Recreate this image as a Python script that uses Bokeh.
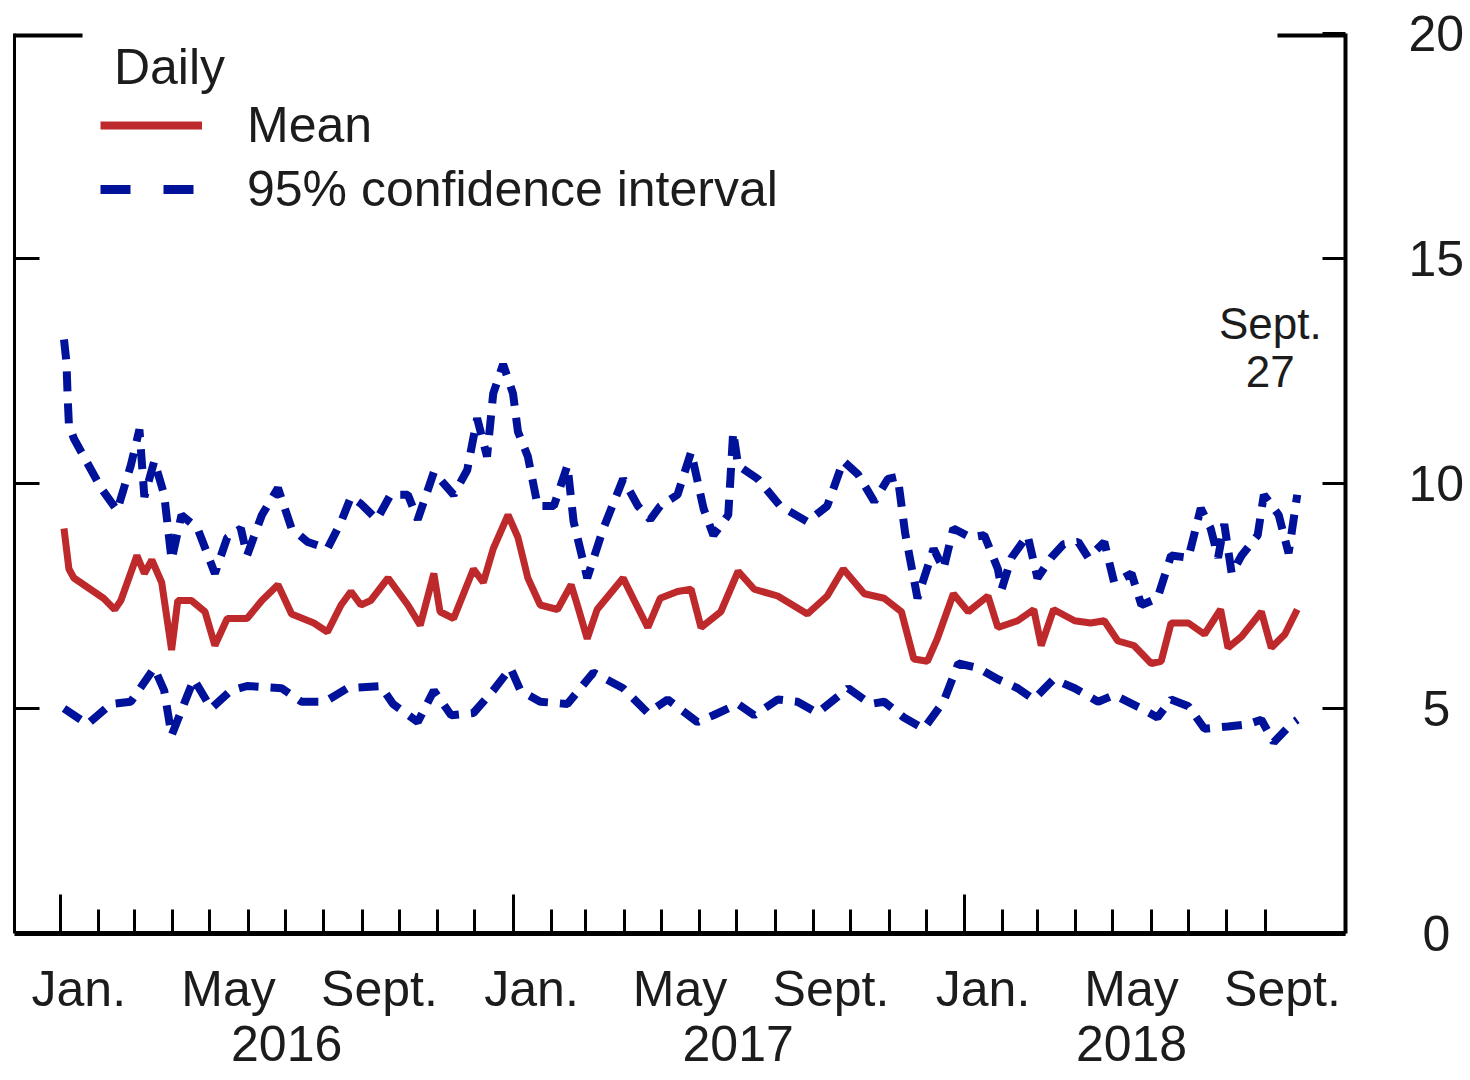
import pandas as pd
from bokeh.plotting import figure
from bokeh.models import Range1d, LinearAxis, FixedTicker, Legend, LegendItem, Label
from bokeh.embed import file_html
from bokeh.resources import INLINE

# ---------------- data ----------------
mean_dates = ["2016-01-04", "2016-01-08", "2016-01-12", "2016-01-20", "2016-01-28", "2016-02-05",
              "2016-02-14", "2016-02-19", "2016-03-03", "2016-03-09", "2016-03-15", "2016-03-23",
              "2016-03-31", "2016-04-05", "2016-04-16", "2016-04-27", "2016-05-05", "2016-05-15",
              "2016-05-31", "2016-06-12", "2016-06-25", "2016-07-06", "2016-07-24", "2016-08-04",
              "2016-08-15", "2016-08-23", "2016-08-31", "2016-09-08", "2016-09-22", "2016-10-08",
              "2016-10-18", "2016-10-29", "2016-11-03", "2016-11-14", "2016-11-30", "2016-12-08",
              "2016-12-16", "2016-12-28", "2017-01-05", "2017-01-13", "2017-01-23", "2017-02-06",
              "2017-02-17", "2017-02-22", "2017-03-02", "2017-03-10", "2017-03-31", "2017-04-09",
              "2017-04-20", "2017-04-30", "2017-05-14", "2017-05-25", "2017-06-02", "2017-06-18",
              "2017-07-02", "2017-07-15", "2017-08-03", "2017-08-27", "2017-09-12", "2017-09-25",
              "2017-10-12", "2017-10-28", "2017-11-11", "2017-11-21", "2017-12-02", "2017-12-10",
              "2017-12-23", "2018-01-04", "2018-01-20", "2018-01-28", "2018-02-13", "2018-02-26",
              "2018-03-04", "2018-03-14", "2018-03-31", "2018-04-13", "2018-04-24", "2018-05-05",
              "2018-05-18", "2018-06-01", "2018-06-09", "2018-06-17", "2018-07-01", "2018-07-14",
              "2018-07-27", "2018-08-02", "2018-08-13", "2018-08-29", "2018-09-06", "2018-09-17",
              "2018-09-27"]
mean_values = [9.0, 8.1, 7.9, 7.75, 7.6, 7.45,
               7.2, 7.4, 8.4, 8.0, 8.3, 7.8,
               6.3, 7.4, 7.4, 7.15, 6.4, 7.0,
               7.0, 7.4, 7.75, 7.1, 6.9, 6.7,
               7.3, 7.6, 7.3, 7.4, 7.9, 7.3,
               6.85, 8.0, 7.15, 7.0, 8.1, 7.8,
               8.55, 9.3, 8.8, 7.9, 7.3, 7.2,
               7.75, 7.3, 6.55, 7.2, 7.9, 7.4,
               6.8, 7.45, 7.6, 7.65, 6.8, 7.15,
               8.05, 7.65, 7.5, 7.1, 7.5, 8.1,
               7.55, 7.45, 7.15, 6.1, 6.05, 6.55,
               7.55, 7.15, 7.5, 6.8, 6.95, 7.2,
               6.4, 7.2, 6.95, 6.9, 6.95, 6.5,
               6.4, 6.0, 6.05, 6.9, 6.9, 6.65,
               7.2, 6.35, 6.6, 7.15, 6.35, 6.65,
               7.2]

upper_dates = ["2016-01-04", "2016-01-06", "2016-01-07", "2016-01-08", "2016-01-12", "2016-01-26",
               "2016-02-03", "2016-02-16", "2016-02-27", "2016-03-05", "2016-03-09", "2016-03-17",
               "2016-03-25", "2016-03-31", "2016-04-08", "2016-04-21", "2016-05-05", "2016-05-15",
               "2016-05-26", "2016-05-31", "2016-06-12", "2016-06-25", "2016-07-06", "2016-07-19",
               "2016-08-04", "2016-08-15", "2016-08-23", "2016-08-31", "2016-09-13", "2016-09-24",
               "2016-10-08", "2016-10-16", "2016-10-29", "2016-11-14", "2016-11-25", "2016-12-03",
               "2016-12-11", "2016-12-16", "2016-12-24", "2017-01-01", "2017-01-05", "2017-01-13",
               "2017-01-21", "2017-02-03", "2017-02-14", "2017-02-19", "2017-03-02", "2017-03-15",
               "2017-03-31", "2017-04-12", "2017-04-22", "2017-04-30", "2017-05-14", "2017-05-25",
               "2017-06-04", "2017-06-12", "2017-06-24", "2017-06-28", "2017-07-02", "2017-07-18",
               "2017-08-05", "2017-08-27", "2017-09-12", "2017-09-25", "2017-10-07", "2017-10-20",
               "2017-10-31", "2017-11-08", "2017-11-14", "2017-11-24", "2017-12-07", "2017-12-15",
               "2017-12-23", "2018-01-06", "2018-01-17", "2018-01-28", "2018-01-31", "2018-02-08",
               "2018-02-21", "2018-03-01", "2018-03-12", "2018-03-22", "2018-04-03", "2018-04-11",
               "2018-04-24", "2018-05-02", "2018-05-16", "2018-05-24", "2018-06-06", "2018-06-17",
               "2018-07-01", "2018-07-11", "2018-07-19", "2018-07-25", "2018-07-30", "2018-08-05",
               "2018-08-13", "2018-08-26", "2018-08-31", "2018-09-12", "2018-09-20", "2018-09-27"]
upper_values = [13.2, 12.7, 11.9, 11.3, 11.0, 10.3,
                9.9, 9.4, 10.4, 11.2, 9.7, 10.5,
                9.75, 8.3, 9.3, 9.0, 8.0, 8.8,
                9.0, 8.4, 9.3, 9.9, 9.0, 8.7,
                8.55, 9.15, 9.7, 9.55, 9.2, 9.75,
                9.75, 9.2, 10.25, 9.75, 10.3, 11.45,
                10.6, 12.0, 12.65, 12.0, 11.15, 10.6,
                9.5, 9.5, 10.4, 9.15, 7.9, 9.0,
                10.1, 9.5, 9.2, 9.5, 9.75, 10.7,
                9.45, 8.85, 9.3, 11.15, 10.4, 10.1,
                9.5, 9.15, 9.5, 10.5, 10.2, 9.6,
                10.1, 10.15, 8.9, 7.45, 8.55, 8.1,
                9.0, 8.8, 8.85, 8.1, 7.65, 8.35,
                8.85, 7.9, 8.35, 8.65, 8.7, 8.35,
                8.7, 7.8, 8.0, 7.3, 7.45, 8.4,
                8.35, 9.45, 9.0, 8.35, 9.1, 8.0,
                8.4, 8.85, 9.75, 9.3, 8.45, 9.75]

lower_dates = ["2016-01-04", "2016-01-23", "2016-02-11", "2016-02-27", "2016-03-17", "2016-03-25",
               "2016-03-31", "2016-04-10", "2016-04-18", "2016-05-02", "2016-05-18", "2016-05-31",
               "2016-06-28", "2016-07-14", "2016-08-02", "2016-08-20", "2016-09-16", "2016-09-26",
               "2016-10-16", "2016-10-29", "2016-11-12", "2016-11-30", "2016-12-16", "2016-12-30",
               "2017-01-07", "2017-01-23", "2017-02-14", "2017-03-07", "2017-03-31", "2017-04-20",
               "2017-05-06", "2017-05-30", "2017-06-12", "2017-07-02", "2017-07-15", "2017-08-03",
               "2017-08-19", "2017-09-04", "2017-09-29", "2017-10-17", "2017-10-28", "2017-11-13",
               "2017-11-29", "2017-12-15", "2017-12-27", "2018-01-12", "2018-01-28", "2018-02-13",
               "2018-02-26", "2018-03-14", "2018-03-31", "2018-04-19", "2018-05-02", "2018-05-24",
               "2018-06-06", "2018-06-17", "2018-07-01", "2018-07-14", "2018-08-02", "2018-08-18",
               "2018-08-29", "2018-09-08", "2018-09-22", "2018-09-27"]
lower_values = [5.0, 4.65, 5.1, 5.15, 5.9, 5.4,
                4.4, 5.1, 5.65, 5.0, 5.4, 5.5,
                5.45, 5.15, 5.15, 5.45, 5.5, 5.1,
                4.7, 5.4, 4.85, 4.9, 5.4, 5.9,
                5.4, 5.15, 5.1, 5.8, 5.45, 4.9,
                5.2, 4.7, 4.85, 5.1, 4.85, 5.2,
                5.15, 4.9, 5.45, 5.1, 5.15, 4.8,
                4.55, 5.15, 6.0, 5.9, 5.65, 5.45,
                5.2, 5.65, 5.45, 5.15, 5.3, 5.0,
                4.8, 5.2, 5.05, 4.55, 4.6, 4.65,
                4.75, 4.25, 4.65, 4.75]

x_start, x_end = "2015-11-25", "2018-11-05"
month_tick_dates = [f"{y}-{m:02d}-01" for y in (2016, 2017, 2018) for m in range(1, 13)
                    if not (y == 2018 and m > 9)]
year_tick_dates = ["2016-01-01", "2017-01-01", "2018-01-01"]
month_label_dates = ["2016-01-16", "2016-05-16", "2016-09-15",
                     "2017-01-16", "2017-05-16", "2017-09-15",
                     "2018-01-16", "2018-05-16", "2018-09-15"]
month_labels = ["Jan.", "May", "Sept.", "Jan.", "May", "Sept.", "Jan.", "May", "Sept."]
year_label_dates = ["2016-07-02", "2017-07-02", "2018-05-16"]
year_labels = ["2016", "2017", "2018"]
y_ticks = [0, 5, 10, 15, 20]
y_tick_labels = ["\u00a00", "\u00a05", "10", "15", "20"]

# ---------------- styling ----------------
RED = "#BE2A2C"
BLUE = "#00119A"
INK = "#1c1c1c"
FONT = "Liberation Sans"
NAN = float("nan")


def ms(d):
    return int(pd.Timestamp(d).value // 10**6)


def ms_list(ds):
    return [ms(d) for d in ds]


p = figure(width=1470, height=1080,
           x_range=Range1d(ms(x_start), ms(x_end)), y_range=Range1d(0, 20),
           output_backend="svg", toolbar_location=None,
           x_axis_location=None, y_axis_location=None,
           min_border_left=14, min_border_top=33, min_border_right=125, min_border_bottom=147)
p.outline_line_color = None
p.background_fill_color = "white"
p.border_fill_color = "white"
for g in p.grid:
    g.visible = False

# series
p.line(ms_list(mean_dates), mean_values, color=RED, line_width=7)
p.line(ms_list(upper_dates), upper_values, color=BLUE, line_width=8, line_dash="20 12")
p.line(ms_list(lower_dates), lower_values, color=BLUE, line_width=8, line_dash="20 12")

# partial top border
span = 55 * 86400000
p.segment(x0=[ms(x_start), ms(x_end) - span], y0=[20, 20],
          x1=[ms(x_start) + span, ms(x_end)], y1=[20, 20], color="black", line_width=8)

# axes
left = LinearAxis(ticker=FixedTicker(ticks=[5, 10, 15]), major_tick_in=25, major_tick_out=0,
                  major_label_text_color=None, major_label_text_font_size="1px",
                  major_label_standoff=0,
                  axis_line_width=3, major_tick_line_width=3, minor_tick_line_color=None)
p.add_layout(left, "left")

right = LinearAxis(ticker=FixedTicker(ticks=y_ticks),
                   major_label_overrides={t: s for t, s in zip(y_ticks, y_tick_labels)},
                   major_tick_in=23, major_tick_out=0, major_label_standoff=63,
                   major_label_text_font=FONT, major_label_text_font_size="50px",
                   major_label_text_color=INK,
                   axis_line_width=4, major_tick_line_width=3, minor_tick_line_color=None)
p.add_layout(right, "right")

bottom_ticks = LinearAxis(ticker=FixedTicker(ticks=ms_list(year_tick_dates),
                                             minor_ticks=ms_list(month_tick_dates)),
                          major_tick_in=39, major_tick_out=0, minor_tick_in=24, minor_tick_out=0,
                          major_label_text_color=None, major_label_text_font_size="1px",
                          major_label_standoff=0,
                          axis_line_width=5, major_tick_line_width=3, minor_tick_line_width=3)
p.add_layout(bottom_ticks, "below")

ml = ms_list(month_label_dates)
bottom_months = LinearAxis(ticker=FixedTicker(ticks=ml, minor_ticks=[]),
                           major_label_overrides={t: s for t, s in zip(ml, month_labels)},
                           axis_line_color=None, major_tick_line_color=None,
                           minor_tick_line_color=None, major_tick_in=0, major_tick_out=0,
                           major_label_standoff=27, major_label_text_font=FONT,
                           major_label_text_font_size="50px", major_label_text_color=INK)
p.add_layout(bottom_months, "below")

yl = ms_list(year_label_dates)
bottom_years = LinearAxis(ticker=FixedTicker(ticks=yl, minor_ticks=[]),
                          major_label_overrides={t: s for t, s in zip(yl, year_labels)},
                          axis_line_color=None, major_tick_line_color=None,
                          minor_tick_line_color=None, major_tick_in=0, major_tick_out=0,
                          major_label_standoff=6, major_label_text_font=FONT,
                          major_label_text_font_size="50px", major_label_text_color=INK)
p.add_layout(bottom_years, "below")

# end-date annotation
end_x = ms(mean_dates[-1])
for txt, yv in (("Sept.", 13.55), ("27", 12.48)):
    p.add_layout(Label(x=end_x, y=yv, x_offset=-27, text=txt, text_align="center",
                       text_baseline="alphabetic", text_font=FONT, text_font_size="44px",
                       text_color=INK))

# legend (sample glyphs only)
leg_mean = p.line([NAN], [NAN], color=RED, line_width=8)
leg_ci = p.line([NAN], [NAN], color=BLUE, line_width=9, line_dash="30 33")
legend = Legend(items=[LegendItem(label="Mean", renderers=[leg_mean]),
                       LegendItem(label="95% confidence interval", renderers=[leg_ci])],
                title="\u00a0Daily", location=(86, 715), padding=0, margin=0,
                border_line_color=None, background_fill_alpha=0,
                title_text_font=FONT, title_text_font_size="50px", title_text_font_style="normal",
                title_text_color=INK, title_standoff=-9,
                label_text_font=FONT, label_text_font_size="50px", label_text_color=INK,
                glyph_width=102, glyph_height=40, label_standoff=45, spacing=6)
p.add_layout(legend)

open("out.html", "w").write(file_html(p, INLINE))
